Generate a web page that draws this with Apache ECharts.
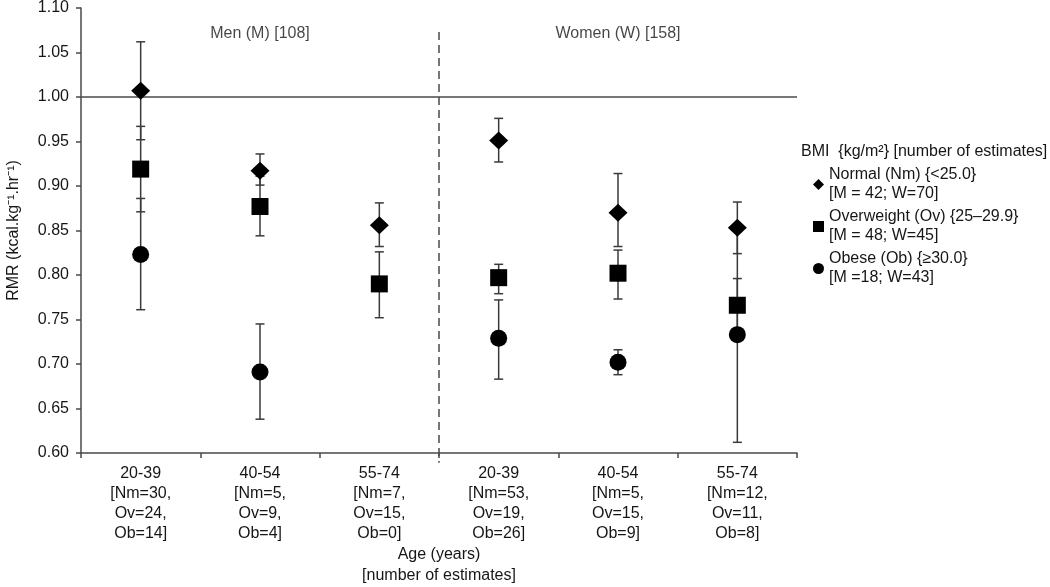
<!DOCTYPE html>
<html>
<head>
<meta charset="utf-8">
<script src="https://cdn.jsdelivr.net/npm/echarts@6/dist/echarts.min.js"></script>
<style>html,body{margin:0;padding:0;background:#fff}#c{width:1050px;height:587px}</style>
</head>
<body>
<div id="c"></div>
<script>
const categories = [
  '20-39\n[Nm=30,\nOv=24,\nOb=14]',
  '40-54\n[Nm=5,\nOv=9,\nOb=4]',
  '55-74\n[Nm=7,\nOv=15,\nOb=0]',
  '20-39\n[Nm=53,\nOv=19,\nOb=26]',
  '40-54\n[Nm=5,\nOv=15,\nOb=9]',
  '55-74\n[Nm=12,\nOv=11,\nOb=8]'
];
const yTicks = [0.60, 0.65, 0.70, 0.75, 0.80, 0.85, 0.90, 0.95, 1.00, 1.05, 1.10];
const normalMean = [1.007, 0.917, 0.856, 0.951, 0.870, 0.853];
const normalLow  = [0.952, 0.901, 0.832, 0.927, 0.832, 0.824];
const normalHigh = [1.062, 0.936, 0.881, 0.976, 0.914, 0.882];
const overMean = [0.919, 0.877, 0.790, 0.797, 0.802, 0.766];
const overLow  = [0.871, 0.844, 0.752, 0.779, 0.773, 0.736];
const overHigh = [0.967, 0.911, 0.826, 0.812, 0.828, 0.796];
const obeseMean = [0.823, 0.691, null, 0.729, 0.702, 0.733];
const obeseLow  = [0.761, 0.638, null, 0.683, 0.688, 0.612];
const obeseHigh = [0.886, 0.745, null, 0.772, 0.716, 0.853];
const seriesNames = ['Normal (Nm) {<25.0}', 'Overweight (Ov) {25\u201329.9}', 'Obese (Ob) {\u226530.0}'];
const seriesCounts = ['[M = 42; W=70]', '[M = 48; W=45]', '[M =18; W=43]'];
const groupTitles = ['Men (M) [108]', 'Women (W) [158]'];
const groupTitleAt = [[1, 1.071], [4, 1.071]];
const referenceValue = 1.00;
const dividerX = [3, 3];
const dividerY = [1.073, 0.589];

const ink = '#161616';
const lineCol = '#4a4a4a';
const font = 'Liberation Sans, Arial, sans-serif';
const fs = 16;

function errData(low, high) {
  const out = [];
  low.forEach((v, i) => { if (v != null) out.push([i, v, high[i]]); });
  return out;
}
function ptData(mean) {
  const out = [];
  mean.forEach((v, i) => { if (v != null) out.push([i, v]); });
  return out;
}
function errSeries(low, high) {
  return {
    type: 'custom', xAxisIndex: 0, yAxisIndex: 0, z: 2, silent: true,
    data: errData(low, high),
    renderItem: function (params, api) {
      const x = api.value(0);
      const lo = api.coord([x, api.value(1)]);
      const hi = api.coord([x, api.value(2)]);
      const w = 4.5;
      const st = { stroke: '#3a3a3a', lineWidth: 1.5 };
      return { type: 'group', children: [
        { type: 'line', shape: { x1: lo[0], y1: lo[1], x2: hi[0], y2: hi[1] }, style: st },
        { type: 'line', shape: { x1: lo[0] - w, y1: lo[1], x2: lo[0] + w, y2: lo[1] }, style: st },
        { type: 'line', shape: { x1: hi[0] - w, y1: hi[1], x2: hi[0] + w, y2: hi[1] }, style: st }
      ]};
    }
  };
}
const symbols = ['diamond', 'rect', 'circle'];
const sizes = [[19, 18], 17, 17];
const means = [normalMean, overMean, obeseMean];
const lows = [normalLow, overLow, obeseLow];
const highs = [normalHigh, overHigh, obeseHigh];

const series = [];
for (let k = 0; k < 3; k++) series.push(errSeries(lows[k], highs[k]));
for (let k = 0; k < 3; k++) {
  series.push({
    type: 'scatter', name: seriesNames[k], xAxisIndex: 0, yAxisIndex: 0, z: 5,
    symbol: symbols[k], symbolSize: sizes[k],
    itemStyle: { color: '#000', opacity: 1 },
    data: ptData(means[k])
  });
}
series.push({
  type: 'line', xAxisIndex: 0, yAxisIndex: 0, data: [], silent: true,
  markLine: { symbol: 'none', silent: true, label: { show: false },
    lineStyle: { color: lineCol, width: 1.5, type: 'solid' },
    data: [{ yAxis: referenceValue }] }
});
series.push({
  type: 'line', xAxisIndex: 1, yAxisIndex: 0, clip: false, silent: true, symbol: 'none',
  lineStyle: { color: lineCol, width: 1.5, type: [8, 5] },
  data: [[dividerX[0], dividerY[0]], [dividerX[1], dividerY[1]]]
});
series.push({
  type: 'scatter', xAxisIndex: 0, yAxisIndex: 0, symbolSize: 0, silent: true,
  data: groupTitleAt.map((d, i) => ({ value: d, label: { show: true, formatter: groupTitles[i] } })),
  label: { position: 'inside', color: ink, fontSize: fs, fontFamily: font }
});

const chart = echarts.init(document.getElementById('c'), null, { renderer: 'canvas' });
chart.setOption({
  animation: false,
  backgroundColor: '#fff',
  textStyle: { fontFamily: font },
  grid: { left: 81, right: 253, top: 8, bottom: 134, containLabel: false, outerBoundsMode: 'none' },
  title: {
    text: 'BMI  {kg/m\u00b2} [number of estimates]',
    left: 801, top: 144, padding: 0,
    textStyle: { fontSize: fs, fontWeight: 'normal', color: ink, fontFamily: font }
  },
  legend: {
    orient: 'vertical', left: 808, top: 151,
    itemWidth: 11, itemHeight: 11, itemGap: -15,
    data: seriesNames.map((n, i) => ({ name: n, icon: symbols[i] })),
    formatter: function (name) { const i = seriesNames.indexOf(name); return name + '\n' + seriesCounts[i]; },
    textStyle: { fontSize: fs, color: ink, fontFamily: font, lineHeight: 19, padding: [19, 0, 0, 0] },
    selectedMode: false
  },
  xAxis: [{
    type: 'category', data: categories, boundaryGap: true,
    axisLine: { lineStyle: { color: lineCol, width: 1.5 } },
    axisTick: { show: true, length: 5, interval: 0, lineStyle: { color: lineCol, width: 1.5 } },
    axisLabel: { interval: 0, color: ink, fontSize: fs, lineHeight: 20, margin: 11, fontFamily: font },
    name: 'Age (years)\n[number of estimates]', nameLocation: 'middle', nameGap: 91, nameMoveOverlap: false,
    nameTextStyle: { color: ink, fontSize: fs, lineHeight: 21, fontFamily: font }
  }, {
    type: 'value', min: 0, max: 6, show: false
  }],
  yAxis: {
    type: 'value', min: yTicks[0], max: yTicks[yTicks.length - 1], interval: 0.05,
    splitLine: { show: false },
    axisLine: { show: true, lineStyle: { color: lineCol, width: 1.5 } },
    axisTick: { show: true, length: 5, lineStyle: { color: lineCol, width: 1.5 } },
    axisLabel: { color: ink, fontSize: fs, margin: 12, fontFamily: font, formatter: v => v.toFixed(2) },
    name: 'RMR (kcal.kg\u207b\u00b9.hr\u207b\u00b9)', nameLocation: 'middle', nameGap: 59, nameMoveOverlap: false,
    nameTextStyle: { color: ink, fontSize: fs, fontFamily: font }
  },
  series: series
});
</script>
</body>
</html>
